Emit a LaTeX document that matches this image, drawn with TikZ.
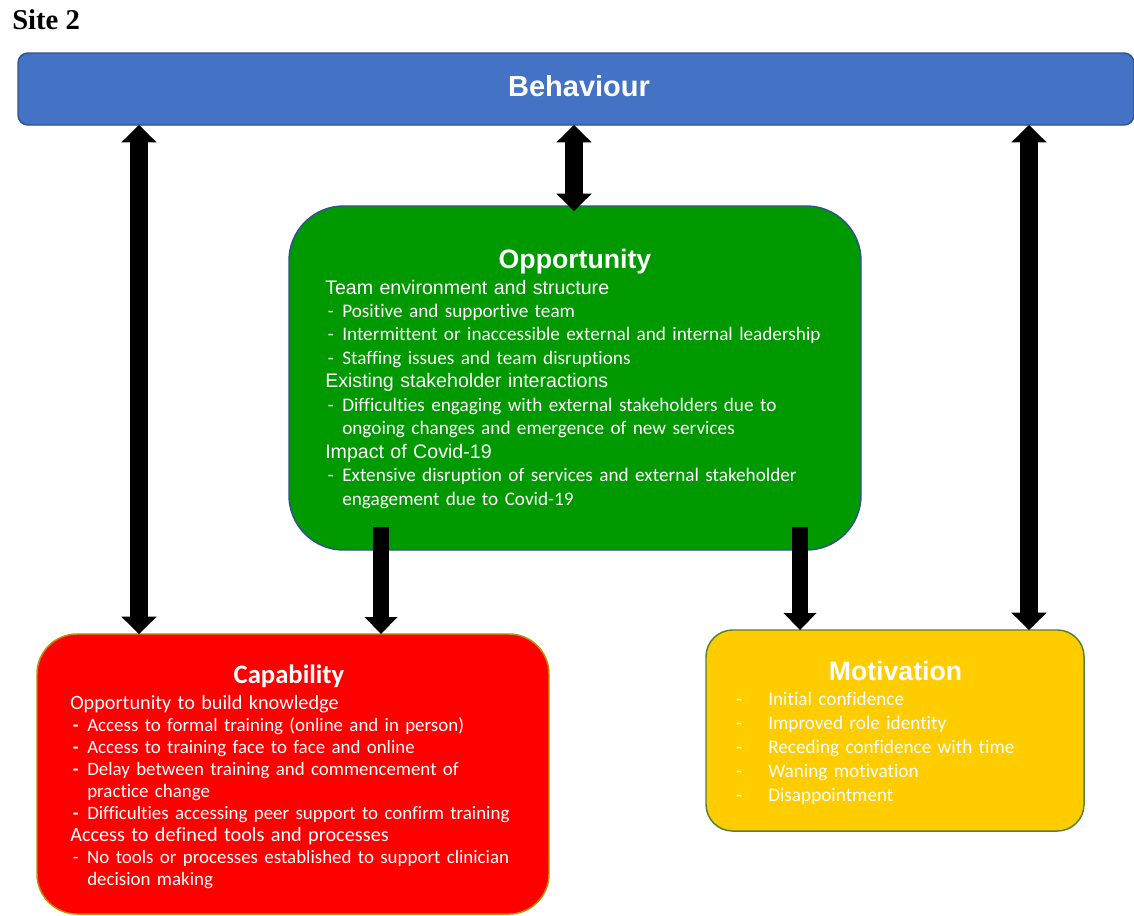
\documentclass[tikz,border=0pt]{standalone}
\usepackage{fontspec}
\setmainfont{Carlito}[Ligatures={NoCommon,NoContextual}]
\newfontfamily\headfont{Liberation Sans}
\newfontfamily\sitefont{Liberation Serif}
\usetikzlibrary{arrows.meta}

\definecolor{behblue}{HTML}{4472C4}
\definecolor{edgeblue}{HTML}{2F528F}
\definecolor{oppgreen}{HTML}{009900}
\definecolor{capred}{HTML}{FF0000}
\definecolor{capedge}{HTML}{BF9000}
\definecolor{motyellow}{HTML}{FFCC00}
\definecolor{motedge}{HTML}{538135}

\newcommand{\dashitem}[2][-]{\hspace*{2pt}\makebox[10.75pt][l]{#1}#2}
\newcommand{\dashcont}[1]{\hspace*{12.75pt}#1}
\newcommand{\motitem}[1]{\makebox[24pt][l]{-}#1}

\begin{document}
\begin{tikzpicture}[x=0.75pt,y=-0.75pt,
    box/.style={draw,line width=1.1pt,inner sep=0pt,outer sep=0pt},
    twoway/.style={line width=13.5pt,>={Triangle[width=26.5pt,length=13pt,line width=0pt]},<->},
    oneway/.style={line width=12pt,>={Triangle[width=24.75pt,length=12.75pt,line width=0pt]},->},
    title/.style={white,inner sep=0pt,anchor=base,font=\headfont\bfseries\fontsize{20}{24}\selectfont},
    body/.style={white,inner sep=0pt,anchor=base west,align=left}]
    \useasboundingbox (0,0) rectangle (1134,915);
    % Site
    \node[anchor=base west,inner sep=0pt,font=\sitefont\bfseries\fontsize{21.5}{26}\selectfont] (site) at (12,29) {Site 2};
    % Behaviour
    \node[box,draw=edgeblue,fill=behblue,rounded corners=7.5pt,minimum width=837pt,minimum height=54pt] (behaviour) at (576,89) {};
    \node[title,font=\headfont\bfseries\fontsize{21.75}{26}\selectfont] (behtitle) at (579,96) {Behaviour};
    % Opportunity
    \node[box,draw=edgeblue,fill=oppgreen,rounded corners=41pt,minimum width=429pt,minimum height=258pt] (opportunity) at (575,378) {};
    \node[title] (opptitle) at (575,268) {Opportunity};
    \node[body,text width=420pt,font=\fontsize{14.4}{17.6}\selectfont] (opptext) at (325,294) {%
        {\headfont\fontsize{14.7}{17.6}\selectfont Team environment and structure}\\
        \dashitem{Positive and supportive team}\\
        \dashitem{Intermittent or inaccessible external and internal leadership}\\
        \dashitem{Staffing issues and team disruptions}\\
        {\headfont\fontsize{14.7}{17.6}\selectfont Existing stakeholder interactions}\\
        \dashitem{Difficulties engaging with external stakeholders due to}\\
        \dashcont{ongoing changes and emergence of new services}\\
        {\headfont\fontsize{14.7}{17.6}\selectfont Impact of Covid-19}\\
        \dashitem{Extensive disruption of services and external stakeholder}\\
        \dashcont{engagement\ due to Covid-19}};
    % Capability
    \node[box,draw=capedge,fill=capred,rounded corners=30pt,minimum width=384pt,minimum height=210pt] (capability) at (293,774) {};
    \node[title,font=\bfseries\fontsize{20}{24}\selectfont] (captitle) at (289,683) {Capability};
    \node[body,text width=375pt,font=\fontsize{14.2}{16.5}\selectfont] (captext) at (70,709) {%
        {\fontsize{15.2}{16.5}\selectfont Opportunity to build knowledge}\\
        \dashitem[\bfseries -]{Access to formal training (online and in person)}\\
        \dashitem[\bfseries -]{Access to training face to face and online}\\
        \dashitem[\bfseries -]{Delay between training and commencement of}\\
        \dashcont{practice change}\\
        \dashitem[\bfseries -]{Difficulties accessing peer support to confirm training}\\
        {\fontsize{15.2}{16.5}\selectfont Access to defined tools and processes}\\
        \dashitem{No tools or processes established to support clinician}\\
        \dashcont{decision making}};
    % Motivation
    \node[box,draw=motedge,fill=motyellow,rounded corners=20pt,minimum width=283.5pt,minimum height=150.75pt] (motivation) at (895,730.5) {};
    \node[title] (mottitle) at (895.5,680) {Motivation};
    \node[body,text width=270pt,font=\fontsize{14.4}{18}\selectfont] (mottext) at (736,705) {%
        \motitem{Initial confidence}\\
        \motitem{Improved role identity}\\
        \motitem{Receding confidence with time}\\
        \motitem{Waning motivation}\\
        \motitem{Disappointment}};
    % Arrows
    \coordinate (lx) at (139,0);
    \coordinate (mx) at (574,0);
    \coordinate (rx) at (1029,0);
    \coordinate (dlx) at (381,0);
    \coordinate (drx) at (800,0);
    \draw[twoway] (behaviour.south -| lx) -- (capability.north -| lx);
    \draw[twoway,shorten >=-3.75pt] (behaviour.south -| mx) -- (opportunity.north -| mx);
    \draw[twoway] (behaviour.south -| rx) -- (motivation.north -| rx);
    \draw[oneway] ([yshift=17pt]opportunity.south -| dlx) -- (capability.north -| dlx);
    \draw[oneway] ([yshift=17pt]opportunity.south -| drx) -- (motivation.north -| drx);
\end{tikzpicture}
\end{document}
